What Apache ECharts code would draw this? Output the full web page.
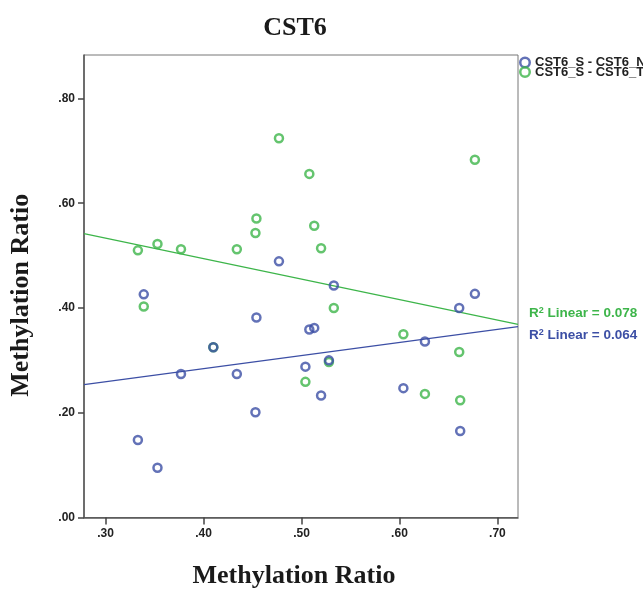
<!DOCTYPE html>
<html>
<head>
<meta charset="utf-8">
<script src="https://cdn.jsdelivr.net/npm/echarts@6/dist/echarts.min.js"></script>
<style>html,body{margin:0;padding:0;background:#fff;}#chart{width:643px;height:590px;}</style>
</head>
<body>
<div id="chart"></div>
<script>
// Data
const xValues = [0.339, 0.454, 0.410, 0.377, 0.434, 0.453, 0.333, 0.353, 0.477, 0.533,
                 0.508, 0.513, 0.661, 0.677, 0.626, 0.528, 0.504, 0.520, 0.604, 0.662];
const normalValues = [0.426, 0.382, 0.325, 0.274, 0.274, 0.201, 0.148, 0.095, 0.489, 0.443,
                      0.359, 0.362, 0.400, 0.427, 0.336, 0.300, 0.288, 0.233, 0.247, 0.165];
const tumorValues = [0.403, 0.571, 0.325, 0.512, 0.512, 0.543, 0.510, 0.522, 0.724, 0.400,
                     0.656, 0.557, 0.316, 0.683, 0.236, 0.297, 0.259, 0.514, 0.350, 0.224];
const seriesNames = ['CST6_S - CST6_N', 'CST6_S - CST6_T'];
const r2Labels = ['0.064', '0.078'];
const xTicks = [0.30, 0.40, 0.50, 0.60, 0.70];
const yTicks = [0.00, 0.20, 0.40, 0.60, 0.80];
const xRange = [0.278, 0.721];
const yRange = [0, 0.883];

const BLUE = '#3c4fa5';
const GREEN = '#3db54a';

function fit(xs, ys) {
  const n = xs.length;
  const mx = xs.reduce((a, b) => a + b, 0) / n;
  const my = ys.reduce((a, b) => a + b, 0) / n;
  let sxy = 0, sxx = 0;
  for (let i = 0; i < n; i++) { sxy += (xs[i] - mx) * (ys[i] - my); sxx += (xs[i] - mx) ** 2; }
  const b = sxy / sxx, a = my - b * mx;
  return [[xRange[0], a + b * xRange[0]], [xRange[1], a + b * xRange[1]]];
}
const pairs = ys => xValues.map((x, i) => [x, ys[i]]);
const fmt = v => v.toFixed(2).replace(/^0/, '');

const chart = echarts.init(document.getElementById('chart'), null, {renderer: 'canvas'});
const markerStyle = c => ({color: 'rgba(255,255,255,0)', borderColor: c, borderWidth: 2.5});
const r2Rich = c => ({
  n: {fontFamily: 'Liberation Sans', fontWeight: 'bold', fontSize: 13.5, color: c},
  s: {fontFamily: 'Liberation Sans', fontWeight: 'bold', fontSize: 9, color: c, verticalAlign: 'top', padding: [0, 0, 6, 0]}
});
const legendRow = (name, top) => ({
  orient: 'vertical', left: 519, top: top, padding: 0, itemWidth: 10, itemHeight: 9.5, itemGap: 0, itemTextGap: 7,
  data: [{name: name, icon: 'circle', itemStyle: {color: 'rgba(255,255,255,0)', borderWidth: 2.5}}],
  textStyle: {fontFamily: 'Liberation Sans', fontWeight: 'bold', fontSize: 13, lineHeight: 9.5, color: '#222'}
});

chart.setOption({
  animation: false,
  title: {
    text: 'CST6', left: 290, top: 10, textAlign: 'center',
    textStyle: {fontFamily: 'Liberation Serif', fontWeight: 'bold', fontSize: 26, color: '#1a1a1a'}
  },
  legend: [legendRow(seriesNames[0], 56), legendRow(seriesNames[1], 65.5)],
  grid: {left: 84, right: 125, top: 55, bottom: 72.5, show: true, borderColor: '#777', borderWidth: 1,
         containLabel: false, outerBoundsMode: 'none'},
  xAxis: {
    type: 'value', min: xRange[0], max: xRange[1],
    name: 'Methylation Ratio', nameLocation: 'middle', nameGap: 46,
    nameTextStyle: {fontFamily: 'Liberation Serif', fontWeight: 'bold', fontSize: 26, color: '#1a1a1a', padding: [0, 14, 0, 0]},
    axisLine: {show: true, lineStyle: {color: '#555', width: 1.5}},
    axisTick: {show: true, customValues: xTicks, length: 7, lineStyle: {color: '#444', width: 1.5}},
    axisLabel: {customValues: xTicks, formatter: fmt, margin: 10,
      fontFamily: 'Liberation Sans', fontWeight: 'bold', fontSize: 12, color: '#222'},
    splitLine: {show: false}
  },
  yAxis: {
    type: 'value', min: yRange[0], max: yRange[1],
    name: 'Methylation Ratio', nameLocation: 'middle', nameGap: 50, nameRotate: 90,
    nameTextStyle: {fontFamily: 'Liberation Serif', fontWeight: 'bold', fontSize: 26, color: '#1a1a1a', padding: [0, 18, 0, 0]},
    axisLine: {show: true, lineStyle: {color: '#555', width: 1.5}},
    axisTick: {show: true, customValues: yTicks, length: 6, lineStyle: {color: '#444', width: 1.5}},
    axisLabel: {customValues: yTicks, formatter: fmt, margin: 9,
      fontFamily: 'Liberation Sans', fontWeight: 'bold', fontSize: 12, color: '#222'},
    splitLine: {show: false}
  },
  series: [
    {name: seriesNames[1] + ' fit', type: 'line', data: fit(xValues, tumorValues), symbol: 'none',
     lineStyle: {color: GREEN, width: 1.2}, z: 1, silent: true,
     endLabel: {show: true, offset: [3, -11], formatter: () => '{n|R}{s|2}{n| Linear = ' + r2Labels[1] + '}', rich: r2Rich(GREEN)}},
    {name: seriesNames[0] + ' fit', type: 'line', data: fit(xValues, normalValues), symbol: 'none',
     lineStyle: {color: BLUE, width: 1.2}, z: 1, silent: true,
     endLabel: {show: true, offset: [3, 9], formatter: () => '{n|R}{s|2}{n| Linear = ' + r2Labels[0] + '}', rich: r2Rich(BLUE)}},
    {name: seriesNames[1], type: 'scatter', data: pairs(tumorValues), symbol: 'circle', symbolSize: 8,
     itemStyle: markerStyle(GREEN), z: 3},
    {name: seriesNames[0], type: 'scatter', data: pairs(normalValues), symbol: 'circle', symbolSize: 8,
     itemStyle: markerStyle(BLUE), z: 4}
  ]
});
</script>
</body>
</html>
